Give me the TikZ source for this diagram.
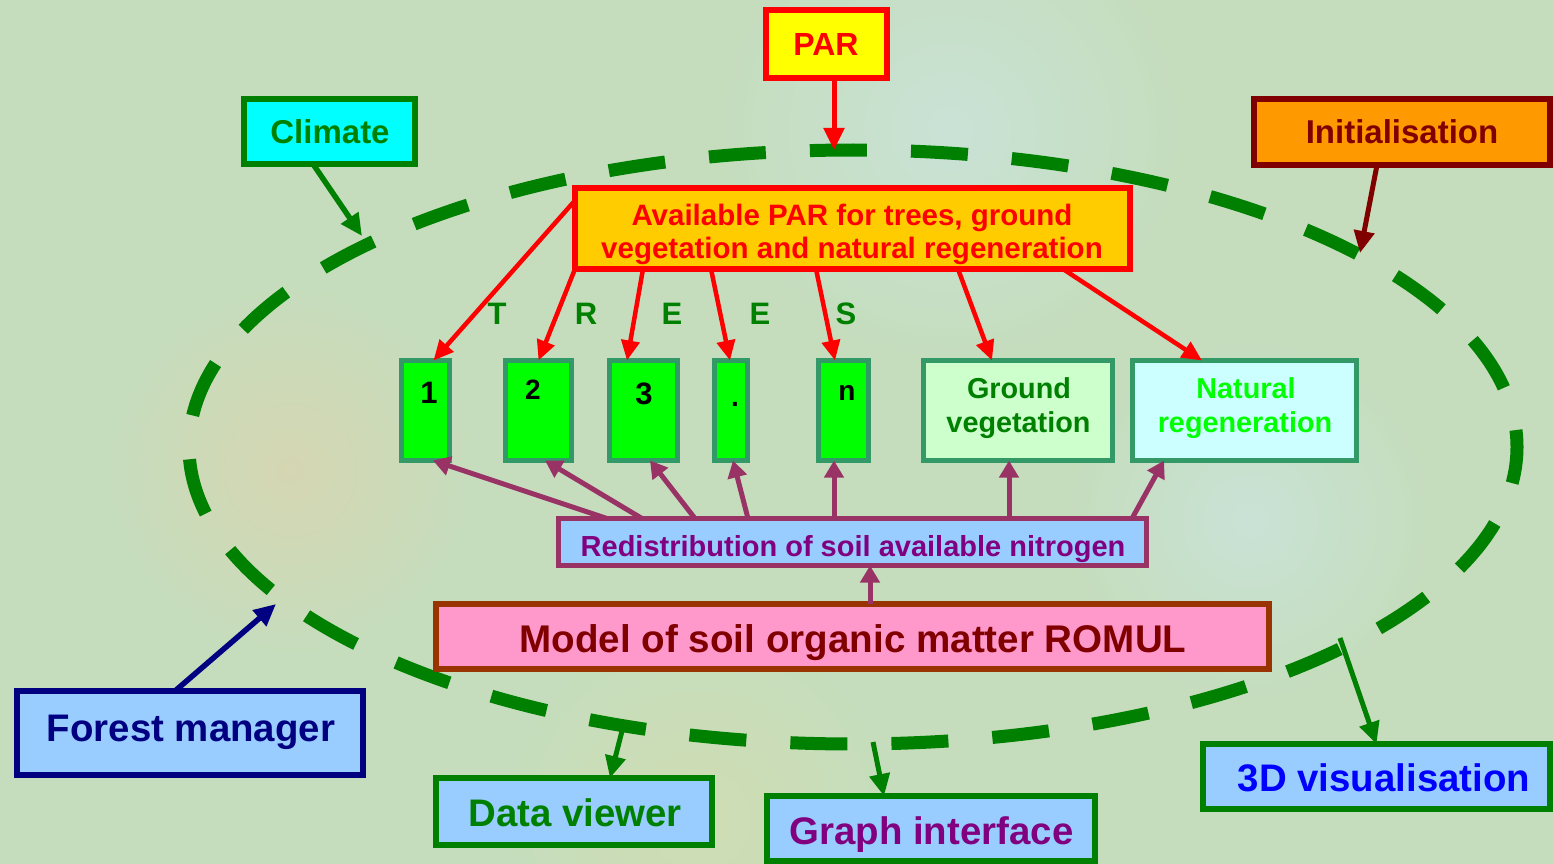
\documentclass[tikz,border=0pt]{standalone}
\usepackage{fontspec}
\setmainfont{Liberation Sans}
\usetikzlibrary{arrows.meta,calc}
\definecolor{bg}{HTML}{C5DDBD}
\definecolor{blobA}{HTML}{D5D6B2}
\definecolor{blobB}{HTML}{C9E2D6}
\definecolor{blobC}{HTML}{CFDDB3}
\definecolor{grn}{HTML}{008000}
\definecolor{seagrn}{HTML}{339966}
\definecolor{lime}{HTML}{00FF00}
\definecolor{cyanf}{HTML}{00FFFF}
\definecolor{yellowf}{HTML}{FFFF00}
\definecolor{redc}{HTML}{FF0000}
\definecolor{bluec}{HTML}{0000FF}
\definecolor{plum}{HTML}{993366}
\definecolor{purp}{HTML}{800080}
\definecolor{rust}{HTML}{993300}
\definecolor{maroon}{HTML}{800000}
\definecolor{pinkf}{HTML}{FF99CC}
\definecolor{skyf}{HTML}{99CCFF}
\definecolor{navyc}{HTML}{000080}
\definecolor{orangef}{HTML}{FF9900}
\definecolor{goldf}{HTML}{FFCC00}
\definecolor{ltgreen}{HTML}{CCFFCC}
\definecolor{ltcyan}{HTML}{CCFFFF}
\newcommand\fsz[1]{\fontsize{#1}{#1}\selectfont\bfseries}
\tikzset{
  box/.style={draw, rectangle, inner sep=0pt, outer sep=0pt},
  lbl/.style={anchor=base, inner sep=0pt, outer sep=0pt},
  treebox/.style={box, fill=lime, draw=seagrn, line width=5.5pt, minimum height=100pt},
  redarr/.style={draw=redc, line width=4.5pt, -{Triangle[length=20pt,width=18pt]}},
  purarr/.style={draw=plum, line width=5pt, -{Triangle[length=17pt,width=19pt]}},
  bigarr/.style={line width=5.5pt, -{Triangle[length=22pt,width=20pt]}},
}
\begin{document}
\begin{tikzpicture}[x=1pt,y=-1pt]
\useasboundingbox (0,0) rectangle (1553,864);
% background
\fill[bg] (0,0) rectangle (1553,864);
\shade[inner color=blobA, outer color=bg] (290,470) circle (190pt);
\shade[inner color=blobB, outer color=bg] (950,130) circle (230pt);
\shade[inner color=blobC, outer color=bg] (700,820) circle (200pt);
\shade[inner color=blobB, outer color=bg] (1250,520) circle (180pt);

% dashed ellipse
\draw[grn, line width=13pt, dash pattern=on 57pt off 44.1pt, dash phase=40pt]
  (853,447) ellipse [x radius=664pt, y radius=297pt];
\coordinate (eTop)  at (834,150);
\coordinate (eClim) at (362,236);
\coordinate (eInit) at (1360,253);
\coordinate (eFM)   at (276,604);
\coordinate (eDV)   at (622,731);
\coordinate (eGI)   at (873,742);
\coordinate (eVis)  at (1340,638);

% boxes
\node[box, fill=yellowf, draw=redc, line width=6pt, minimum width=121pt, minimum height=68pt] (par) at (826,44.5) {};
\node[box, fill=cyanf, draw=grn, line width=6.5pt, minimum width=171pt, minimum height=65pt] (climate) at (329.5,131.5) {};
\node[box, fill=orangef, draw=maroon, line width=6.5pt, minimum width=296pt, minimum height=66pt] (init) at (1402,132) {};
\node[box, fill=goldf, draw=redc, line width=6.5pt, minimum width=555pt, minimum height=81pt] (avail) at (852.5,228.5) {};

\node[treebox, minimum width=48pt] (t1) at (425.5,410.5) {};
\node[treebox, minimum width=66pt] (t2) at (538.5,410.5) {};
\node[treebox, minimum width=68pt] (t3) at (643.5,410.5) {};
\node[treebox, minimum width=33pt] (t4) at (731,410.5) {};
\node[treebox, minimum width=50pt] (tn) at (843.5,410.5) {};
\node[treebox, fill=ltgreen, minimum width=189pt] (gv) at (1018,410.5) {};
\node[treebox, fill=ltcyan, minimum width=224pt] (nr) at (1244.5,410.5) {};

\node[box, fill=skyf, draw=plum, line width=5pt, minimum width=588pt, minimum height=47pt] (redist) at (852.5,542) {};
\node[box, fill=pinkf, draw=rust, line width=6.5pt, minimum width=833pt, minimum height=65pt] (model) at (852.5,636.5) {};
\node[box, fill=skyf, draw=navyc, line width=6.5pt, minimum width=346pt, minimum height=84pt] (fm) at (190,733) {};
\node[box, fill=skyf, draw=grn, line width=6.5pt, minimum width=276pt, minimum height=67pt] (dv) at (574,811.5) {};
\node[box, fill=skyf, draw=grn, line width=6.5pt, minimum width=328pt, minimum height=65pt] (gi) at (931,828.5) {};
\node[box, fill=skyf, draw=grn, line width=6.5pt, minimum width=347pt, minimum height=65pt] (vis) at (1376.5,776.5) {};

% texts
\node[lbl, text=redc] (parT) at (826,56) {\fsz{32}PAR};
\node[lbl, text=grn] (climT) at (330,143) {\fsz{33}Climate};
\node[lbl, text=maroon] (initT) at (1402,143) {\fsz{33}Initialisation};
\node[lbl, text=redc] (availT1) at (852,225) {\fsz{29.5}Available PAR for trees, ground};
\node[lbl, text=redc] (availT2) at (852,258) {\fsz{29.5}vegetation and natural regeneration};

\node[lbl, text=grn] (lT) at (497,324) {\fsz{31}T};
\node[lbl, text=grn] (lR) at (586,324) {\fsz{31}R};
\node[lbl, text=grn] (lE1) at (672,324) {\fsz{31}E};
\node[lbl, text=grn] (lE2) at (760,324) {\fsz{31}E};
\node[lbl, text=grn] (lS) at (846,324) {\fsz{31}S};

\node[lbl] (n1) at (429,403) {\fsz{31}1};
\node[lbl] (n2) at (533,399) {\fsz{28}2};
\node[lbl] (n3) at (644,404) {\fsz{31}3};
\node[lbl] (n4) at (735,406) {\fsz{28}.};
\node[lbl] (nn) at (847,400) {\fsz{28}n};

\node[lbl, text=grn] (gvT1) at (1019,398) {\fsz{28.8}Ground};
\node[lbl, text=grn] (gvT2) at (1018.5,432) {\fsz{28.8}vegetation};
\node[lbl, text=lime] (nrT1) at (1246,398) {\fsz{28.8}Natural};
\node[lbl, text=lime] (nrT2) at (1245,432) {\fsz{28.8}regeneration};

\node[lbl, text=purp] (redT) at (853,556) {\fsz{29}Redistribution of soil available nitrogen};
\node[lbl, text=maroon] (modT) at (853,652) {\fsz{38.6}Model of soil organic matter ROMUL};
\node[lbl, text=navyc] (fmT) at (191,741) {\fsz{38.4}Forest manager};
\node[lbl, text=grn] (dvT) at (575,826) {\fsz{38.4}Data viewer};
\node[lbl, text=purp] (giT) at (931.5,844) {\fsz{38.4}Graph interface};
\node[lbl, text=bluec] (visT) at (1384,791) {\fsz{38.4}3D visualisation};

% arrows to / from the ellipse
\draw[bigarr, draw=redc, line width=5pt] ([xshift=8pt]par.south) -- (eTop);
\draw[bigarr, draw=grn] ([xshift=-16.5pt]climate.south) -- (eClim);
\draw[bigarr, draw=maroon, line width=5pt] ([xshift=-25pt]init.south) -- (eInit);
\draw[bigarr, draw=navyc] ([xshift=-15pt]fm.north) -- (eFM);
\draw[bigarr, draw=grn, line width=5pt] (eDV) -- ([xshift=36pt]dv.north);
\draw[bigarr, draw=grn, line width=5pt] (eGI) -- ([xshift=-47pt]gi.north);
\draw[bigarr, draw=grn, line width=5pt] (eVis) -- (vis.north);

% red arrows from available PAR
\draw[redarr] ([yshift=28pt]avail.west) -- ([xshift=8pt]t1.north);
\draw[redarr] (avail.south west) -- (t2.north);
\draw[redarr] ([xshift=68pt]avail.south west) -- ([xshift=-16.5pt]t3.north);
\draw[redarr] ([xshift=136pt]avail.south west) -- ([xshift=-1pt]t4.north);
\draw[redarr] ([xshift=241pt]avail.south west) -- ([xshift=-8.5pt]tn.north);
\draw[redarr] ([xshift=383pt]avail.south west) -- ([xshift=-26pt]gv.north);
\draw[redarr] ([xshift=488pt]avail.south west) -- ([xshift=-42.5pt]nr.north);

% purple arrows from redistribution
\draw[purarr] ([xshift=48.5pt]redist.north west) -- ([xshift=7.5pt]t1.south);
\draw[purarr] ([xshift=83.5pt]redist.north west) -- ([xshift=6.5pt]t2.south);
\draw[purarr] ([xshift=136.5pt]redist.north west) -- ([xshift=6.5pt]t3.south);
\draw[purarr] ([xshift=189.5pt]redist.north west) -- ([xshift=2pt]t4.south);
\draw[purarr] ([xshift=275.5pt]redist.north west) -- ([xshift=-9.5pt]tn.south);
\draw[purarr] ([xshift=450.5pt]redist.north west) -- ([xshift=-9pt]gv.south);
\draw[purarr] ([xshift=573.5pt]redist.north west) -- ([xshift=31.5pt]nr.south west);
\draw[purarr] ([xshift=17.5pt]model.north) -- ([xshift=17.5pt]redist.south);
\end{tikzpicture}
\end{document}
